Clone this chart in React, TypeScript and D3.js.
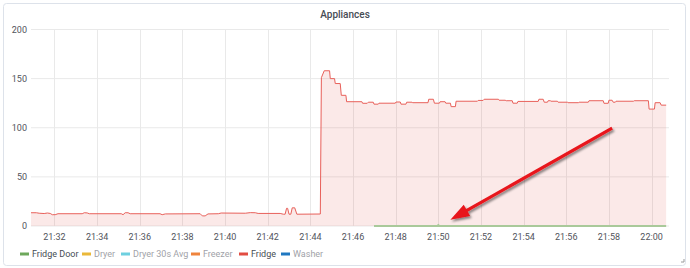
import React from "react";
import * as d3 from "d3";

const fridgeTimes = [
  "21:30:54","21:31:09","21:31:17","21:31:31","21:31:40","21:31:48","21:31:54","21:32:02","21:32:10","21:33:18",
  "21:33:24","21:33:32","21:33:38","21:35:08","21:35:13","21:35:19","21:35:27","21:35:33","21:36:57","21:37:03",
  "21:37:12","21:38:50","21:38:56","21:39:04","21:39:12","21:39:41","21:39:49","21:40:57","21:41:11","21:41:25",
  "21:41:33","21:42:35","21:42:44","21:42:49","21:42:53","21:42:56","21:43:00","21:43:05","21:43:09","21:43:16",
  "21:43:22","21:44:28","21:44:31","21:44:39","21:44:54","21:44:56","21:45:08","21:45:10","21:45:24","21:45:27",
  "21:45:40","21:45:42","21:46:25","21:46:27","21:46:40","21:46:43","21:46:57","21:46:59","21:47:11","21:47:13",
  "21:47:59","21:48:01","21:48:13","21:48:15","21:48:29","21:48:31","21:48:46","21:48:48","21:49:31","21:49:33",
  "21:49:46","21:49:49","21:50:03","21:50:05","21:50:19","21:50:21","21:50:34","21:50:36","21:50:48","21:50:50",
  "21:51:50","21:51:52","21:52:06","21:52:09","21:52:49","21:52:51","21:53:08","21:53:11","21:53:28","21:53:30",
  "21:53:42","21:53:44","21:54:41","21:54:43","21:54:55","21:54:58","21:55:07","21:55:09","21:55:15","21:55:17",
  "21:55:35","21:55:37","21:56:03","21:56:05","21:56:34","21:56:36","21:57:02","21:57:04","21:57:44","21:57:46",
  "21:57:58","21:58:00","21:58:09","21:58:12","21:58:18","21:58:20","21:59:09","21:59:11","21:59:51","21:59:53",
  "22:00:08","22:00:10","22:00:24","22:00:27","22:00:41",
];
const fridgeValues = [
  13.5,13.5,13.0,12.7,13.2,12.8,11.5,11.5,12.5,12.5,
  13.5,13.3,12.5,12.5,11.5,13.5,13.5,12.5,12.5,11.5,
  12.3,12.5,10.3,10.3,12.3,12.5,13.2,13.0,13.6,13.5,
  12.8,12.8,12.0,12.0,18.0,18.0,12.0,12.0,18.5,18.5,
  12.0,12.2,151,158,158,150,150,145,145,133,
  133,126.5,126.5,124.9,124.9,126,126,124,124,125,
  125,126.2,126.2,124,124,126,126,125.5,125.5,129,
  129,125,125,126.5,126.5,125,125,121.5,121.5,127,
  127,127.8,127.8,129,129,128,128,127.5,127.5,125,
  125,126.8,126.8,129,129,126,126,127.5,127.5,127,
  127,126,126,125.5,125.5,126,126,127.5,127.5,124.9,
  124.9,128,128,126,126,127,127,127.5,127.5,119,
  119,125.5,125.5,123,123,
];

const doorTimes = ["21:46:59","21:49:57","21:50:00","21:50:03","22:00:41"];
const doorValues = [0, 0, 1, 0, 0];

const yTicks = [0, 50, 100, 150, 200];
const xTickLabels = ["21:32","21:34","21:36","21:38","21:40","21:42","21:44","21:46","21:48","21:50","21:52","21:54","21:56","21:58","22:00"];

const legendNames = ["Fridge Door", "Dryer", "Dryer 30s Avg", "Freezer", "Fridge", "Washer"];
const legendColors = ["#6ea85c", "#eab839", "#6ed0e0", "#ef843c", "#e24d42", "#1f78c1"];
const legendActive = [true, false, false, false, true, false];

const timeRange = ["21:30:54", "22:00:49"];
const arrowTimes = ["21:58:09", "21:50:34"];
const arrowValues = [99.7, 6.3];

const parse = d3.timeParse("%H:%M:%S");
const parseHM = d3.timeParse("%H:%M");

export default function App() {
  const W = 690, H = 268;
  const left = 31, right = 669, top = 29.5, bottom = 226;
  const x = d3.scaleTime().domain(timeRange.map((t) => parse(t) as Date)).range([left, right]);
  const y = d3.scaleLinear().domain([0, 200]).range([bottom, top]);

  const fridge = fridgeTimes.map((t, i) => ({ t: parse(t) as Date, v: fridgeValues[i] }));
  const door = doorTimes.map((t, i) => ({ t: parse(t) as Date, v: doorValues[i] }));

  const line = d3.line<{ t: Date; v: number }>().x((d) => x(d.t)).y((d) => y(d.v));
  const area = d3.area<{ t: Date; v: number }>().x((d) => x(d.t)).y0(y(0)).y1((d) => y(d.v));

  const font = "Roboto, 'Noto Sans', sans-serif";
  const legendX = [20, 82, 121, 191, 239, 281];

  // arrow
  const ax0 = x(parse(arrowTimes[0]) as Date), ay0 = y(arrowValues[0]);
  const ax1 = x(parse(arrowTimes[1]) as Date), ay1 = y(arrowValues[1]);
  const ang = Math.atan2(ay1 - ay0, ax1 - ax0);
  const headLen = 19, headHalf = 6.5, shaftHalf = 1.6;
  const ux = Math.cos(ang), uy = Math.sin(ang), px = -uy, py = ux;
  const bx = ax1 - ux * headLen, by = ay1 - uy * headLen;
  const arrowPath = [
    [ax0 + px * shaftHalf, ay0 + py * shaftHalf],
    [bx + px * shaftHalf, by + py * shaftHalf],
    [bx + px * headHalf, by + py * headHalf],
    [ax1, ay1],
    [bx - px * headHalf, by - py * headHalf],
    [bx - px * shaftHalf, by - py * shaftHalf],
    [ax0 - px * shaftHalf, ay0 - py * shaftHalf],
  ].map((p) => p.join(",")).join(" ");

  return (
    <div style={{ position: "absolute", left: 0, top: 0, width: W, height: H, background: "#fff" }}>
      <svg width={W} height={H} style={{ display: "block", fontFamily: font }}>
        <defs>
          <filter id="shadow" x="-20%" y="-20%" width="140%" height="140%">
            <feDropShadow dx="1.5" dy="2" stdDeviation="1.2" floodColor="#000" floodOpacity="0.45" />
          </filter>
        </defs>
        <rect x={3.5} y={3.5} width={682} height={262} rx={3} fill="#fff" stroke="#dde2ea" strokeWidth={1} />
        <text x={345} y={17.5} textAnchor="middle" fontSize={10} fontWeight={500} fill="#464c54">Appliances</text>

        {/* grid */}
        {yTicks.map((v) => (
          <line key={"gy" + v} x1={left} x2={right} y1={y(v)} y2={y(v)} stroke="#e9e9e9" strokeWidth={1} />
        ))}
        {xTickLabels.map((s) => {
          const xx = Math.round(x(parseHM(s) as Date)) + 0.5;
          return <line key={"gx" + s} x1={xx} x2={xx} y1={top} y2={bottom} stroke="#e9e9e9" strokeWidth={1} />;
        })}

        {/* fridge */}
        <path d={area(fridge) || ""} fill="#e24d42" fillOpacity={0.12} />
        <path d={line(fridge) || ""} fill="none" stroke="#e8605a" strokeWidth={1} />
        {/* fridge door */}
        <path d={line(door) || ""} fill="none" stroke="#a9c99a" strokeWidth={2} />

        {/* axes labels */}
        {yTicks.map((v) => (
          <text key={"ly" + v} x={27} y={y(v)} dy="0.35em" textAnchor="end" fontSize={9} fill="#52545c">{v}</text>
        ))}
        {xTickLabels.map((s) => (
          <text key={"lx" + s} x={x(parseHM(s) as Date)} y={240} textAnchor="middle" fontSize={9} fill="#52545c">{s}</text>
        ))}

        {/* legend */}
        {legendNames.map((n, i) => (
          <g key={n}>
            <rect x={legendX[i]} y={252.5} width={9} height={3} fill={legendColors[i]} />
            <text x={legendX[i] + 12} y={254} dy="0.35em" fontSize={9} fill={legendActive[i] ? "#464c54" : "#9fa2a8"}>{n}</text>
          </g>
        ))}

        {/* resize handle */}
        <path d="M681,262 L684,262 L684,259" fill="none" stroke="#9a9a9a" strokeWidth={1} />

        {/* annotation arrow */}
        <polygon points={arrowPath} fill="#e8141b" filter="url(#shadow)" />
      </svg>
    </div>
  );
}
